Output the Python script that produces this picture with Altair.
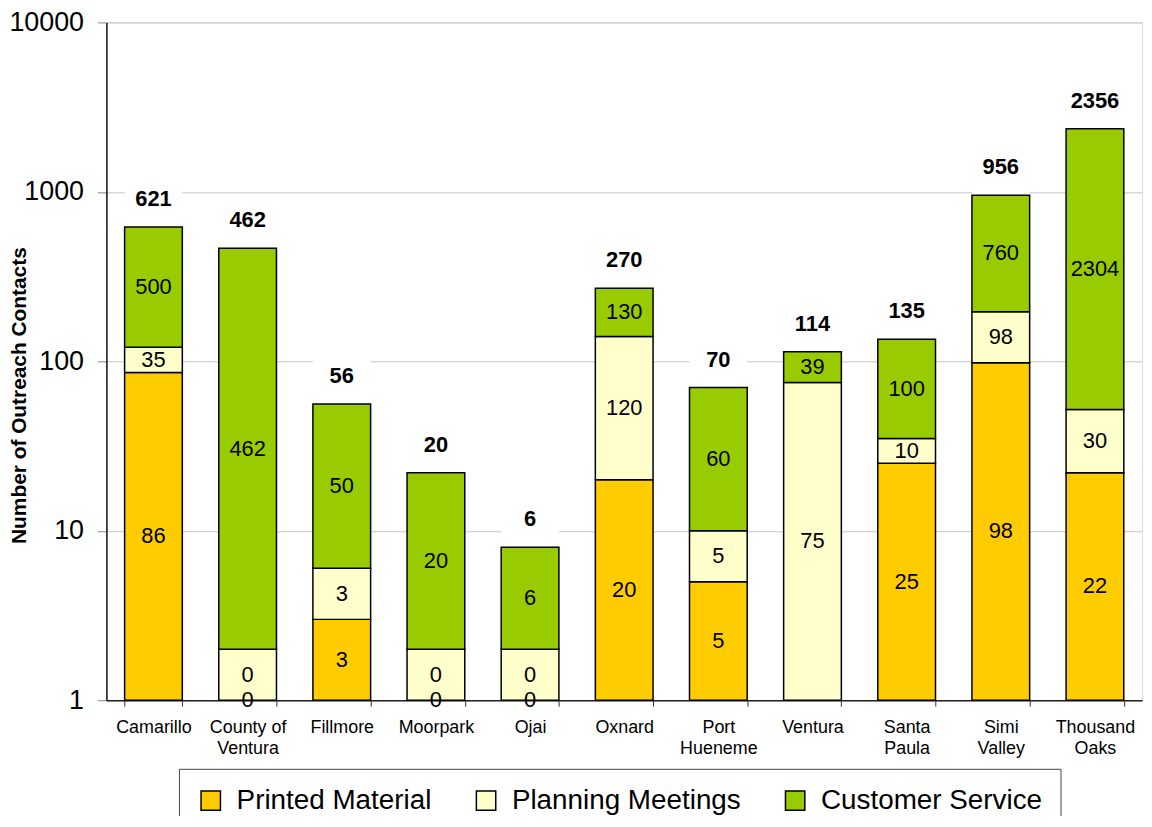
import altair as alt
import pandas as pd

# ---- data ----
cities = ["Camarillo", "County of|Ventura", "Fillmore", "Moorpark", "Ojai", "Oxnard",
          "Port|Hueneme", "Ventura", "Santa|Paula", "Simi|Valley", "Thousand|Oaks"]
printed = [86, 0, 3, 0, 0, 20, 5, None, 25, 98, 22]
planning = [35, 0, 3, 0, 0, 120, 5, 75, 10, 98, 30]
customer = [500, 462, 50, 20, 6, 130, 60, 39, 100, 760, 2304]
totals = [621, 462, 56, 20, 6, 270, 70, 114, 135, 956, 2356]
series_names = ["Printed Material", "Planning Meetings", "Customer Service"]
series_colors = ["#FFCC00", "#FFFFCC", "#99CC00"]
y_ticks = [1, 10, 100, 1000, 10000]

FONT = "Liberation Sans"

# Stack as the spreadsheet did on its log axis: a 0 counts as 1, a blank counts as nothing
rows = []
tops = []
for i, c in enumerate(cities):
    cum = 0.0
    for s, vals in zip(series_names, [printed, planning, customer]):
        v = vals[i]
        if v is None:
            continue
        h = 1 if v == 0 else v
        start = cum
        cum = cum + h
        y0 = max(start, 1)
        y1 = max(cum, 1)
        rows.append({"city": c, "series": s, "value": v, "y0": y0, "y1": y1,
                     "ymid": (y0 * y1) ** 0.5, "order": series_names.index(s)})
    tops.append({"city": c, "total": totals[i], "top": cum})

df = pd.DataFrame(rows)
tf = pd.DataFrame(tops)

xenc = alt.X("city:N", sort=cities,
             scale=alt.Scale(paddingInner=0.387, paddingOuter=0.1935),
             axis=alt.Axis(title=None, labelAngle=0, labelExpr="split(datum.label, '|')",
                           labelAlign="center",
                           labelFontSize=18, labelLineHeight=22, labelBaseline="top",
                           labelPadding=12, labelColor="black", labelFont=FONT,
                           tickBand="extent", tickSize=6, tickColor="#333",
                           domainColor="#222", domainWidth=1.5))

yscale = alt.Scale(type="log", domain=[1, 10000], nice=False)

bars = alt.Chart(df).mark_bar(stroke="black", strokeWidth=1.5).encode(
    x=xenc,
    y=alt.Y("y0:Q", scale=yscale,
            axis=alt.Axis(values=y_ticks, format="d", title="Number of Outreach Contacts",
                          titleFontSize=21, titleFontWeight="bold", titleFont=FONT,
                          titleColor="black", titleX=-87, titleY=375, titleAngle=-90,
                          titleAlign="center", titleBaseline="middle",
                          labelFontSize=27, labelFont=FONT, labelColor="black",
                          labelPadding=14, tickSize=9, tickColor="#888",
                          domainColor="#111", domainWidth=1.5,
                          gridColor="#c4c4c4", gridWidth=1)),
    y2="y1:Q",
    color=alt.Color("series:N", sort=series_names,
                    scale=alt.Scale(domain=series_names, range=series_colors),
                    legend=alt.Legend(title=None, orient="none", direction="horizontal",
                                      legendX=73, legendY=751,
                                      labelFontSize=28, labelFont=FONT, labelColor="black",
                                      labelLimit=400, labelOffset=12,
                                      symbolType="square", symbolSize=380,
                                      symbolStrokeColor="black", symbolStrokeWidth=1.5,
                                      columnPadding=40, padding=18,
                                      strokeColor="#444", fillColor="white")),
    order=alt.Order("order:Q"),
)

boxes = alt.Chart(tf).mark_tick(color="white", thickness=46, size=58, yOffset=-23, opacity=1).encode(
    x=alt.X("city:N", sort=cities),
    y=alt.Y("top:Q", scale=yscale),
)

total_text = alt.Chart(tf).mark_text(fontSize=22, fontWeight="bold", font=FONT, color="black",
                                     baseline="middle", dy=-28).encode(
    x=alt.X("city:N", sort=cities),
    y=alt.Y("top:Q", scale=yscale),
    text="total:Q",
)

seg_text = alt.Chart(df).mark_text(fontSize=22, font=FONT, color="black", baseline="middle").encode(
    x=alt.X("city:N", sort=cities),
    y=alt.Y("ymid:Q", scale=yscale),
    text="value:Q",
)

chart = alt.layer(boxes, bars, total_text, seg_text).properties(
    width=1042, height=682,
    padding={"left": 99, "top": 12, "right": 2, "bottom": 114},
    autosize=alt.AutoSizeParams(type="none"),
).configure_view(stroke="#888", strokeWidth=1).configure(font=FONT)

chart.save("out.html", embed_options={"renderer": "svg", "actions": False})
